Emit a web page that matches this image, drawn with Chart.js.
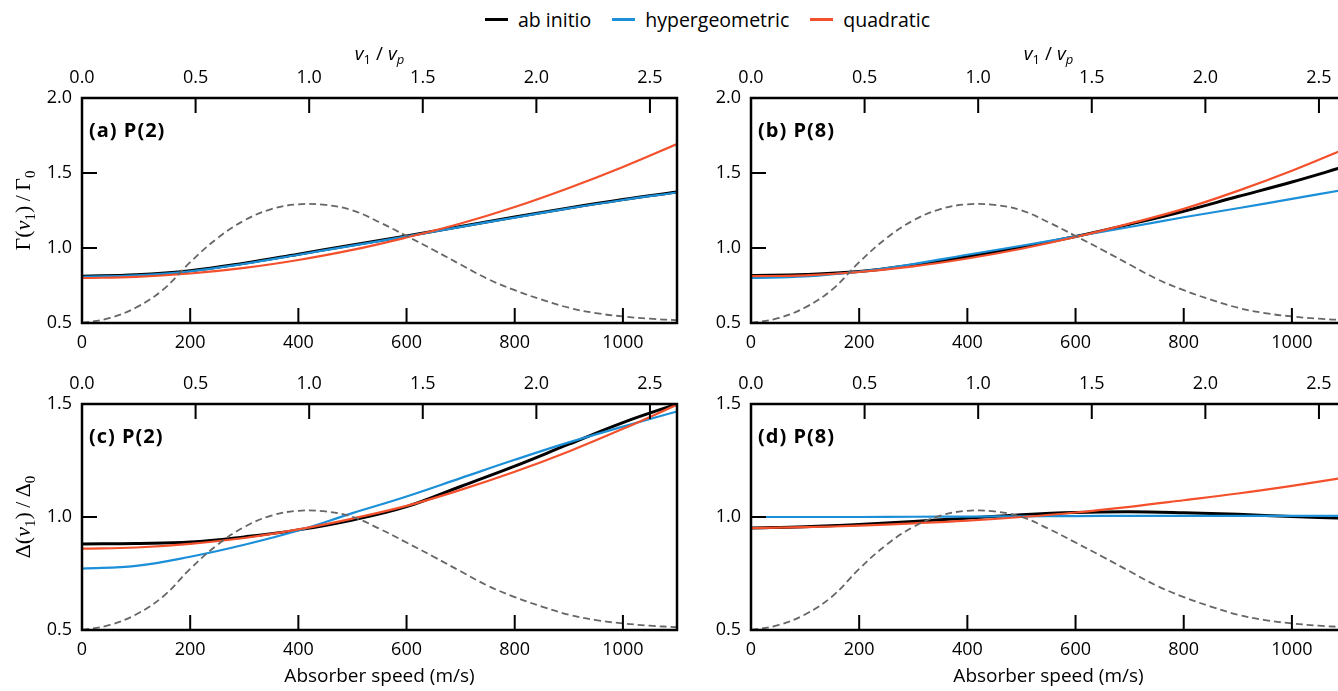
<!DOCTYPE html>
<html>
<head>
<meta charset="utf-8">
<script src="https://cdn.jsdelivr.net/npm/chart.js@4.4.1/dist/chart.umd.min.js"></script>
<style>
  html, body { margin: 0; padding: 0; background: #fff; overflow: hidden; }
  #fig { position: relative; width: 1338px; height: 691px; overflow: hidden; }
  #fig canvas { position: absolute; }
  #legend { position: absolute; top: 6px; left: 485px; display: flex; align-items: center;
            font: 19.5px "Open Sans", "DejaVu Sans", sans-serif; color: #000; white-space: nowrap; }
  #legend .item { display: flex; align-items: center; margin-right: 21px; }
  #legend .sw { display: inline-block; width: 23px; height: 3px; margin-right: 10px; }
</style>
</head>
<body>
<div id="fig">
  <div id="legend">
    <span class="item"><span class="sw" style="background:#000"></span>ab initio</span>
    <span class="item"><span class="sw" style="background:#1b8fd8"></span>hypergeometric</span>
    <span class="item"><span class="sw" style="background:#f4502c"></span>quadratic</span>
  </div>
  <canvas id="pa" width="682" height="332" style="left:0;top:28px"></canvas>
  <canvas id="pb" width="669" height="332" style="left:682px;top:28px"></canvas>
  <canvas id="pc" width="682" height="331" style="left:0;top:360px"></canvas>
  <canvas id="pd" width="669" height="331" style="left:682px;top:360px"></canvas>
</div>
<script>
// absorber speed (m/s) sample points for the three model curves
const speeds = [0, 100, 200, 300, 400, 500, 600, 700, 800, 900, 1000, 1100];

// Gamma(v1)/Gamma0, P(2)
const gammaP2AbInitio = [0.812, 0.822, 0.849, 0.899, 0.959, 1.020, 1.080, 1.144, 1.206, 1.267, 1.323, 1.373];
const gammaP2Hyper    = [0.808, 0.818, 0.845, 0.895, 0.955, 1.016, 1.077, 1.141, 1.203, 1.264, 1.320, 1.370];
const gammaP2Quad     = [0.800, 0.807, 0.830, 0.867, 0.920, 0.987, 1.070, 1.163, 1.273, 1.400, 1.540, 1.693];

// Gamma(v1)/Gamma0, P(8)
const gammaP8AbInitio = [0.817, 0.823, 0.843, 0.886, 0.942, 1.005, 1.077, 1.158, 1.245, 1.343, 1.440, 1.545];
const gammaP8Hyper    = [0.800, 0.810, 0.842, 0.893, 0.955, 1.015, 1.077, 1.140, 1.205, 1.265, 1.328, 1.390];
const gammaP8Quad     = [0.812, 0.818, 0.840, 0.877, 0.930, 0.995, 1.073, 1.163, 1.261, 1.381, 1.515, 1.663];

// Delta(v1)/Delta0, P(2)
const deltaP2AbInitio = [0.881, 0.883, 0.889, 0.912, 0.943, 0.987, 1.046, 1.135, 1.225, 1.322, 1.418, 1.500];
const deltaP2Hyper    = [0.772, 0.784, 0.824, 0.877, 0.940, 1.017, 1.091, 1.172, 1.253, 1.330, 1.400, 1.467];
const deltaP2Quad     = [0.860, 0.865, 0.881, 0.907, 0.945, 0.993, 1.049, 1.120, 1.200, 1.290, 1.390, 1.497];

// Delta(v1)/Delta0, P(8)
const deltaP8AbInitio = [0.951, 0.957, 0.967, 0.980, 0.995, 1.010, 1.020, 1.023, 1.019, 1.012, 1.002, 0.995];
const deltaP8Hyper    = [1.000, 1.000, 1.000, 1.001, 1.002, 1.003, 1.004, 1.005, 1.005, 1.005, 1.005, 1.005];
const deltaP8Quad     = [0.951, 0.955, 0.962, 0.972, 0.984, 1.000, 1.020, 1.045, 1.074, 1.104, 1.138, 1.175];

// speed distribution (dashed), relative to its peak
const distSpeeds = [0, 50, 100, 150, 200, 250, 300, 350, 400, 450, 500, 550,
                    600, 650, 700, 750, 800, 850, 900, 950, 1000, 1050, 1100];
const speedDist  = [0, 0.04, 0.13, 0.28, 0.51, 0.71, 0.86, 0.955, 0.995, 0.99, 0.945, 0.845,
                    0.73, 0.612, 0.49, 0.37, 0.275, 0.196, 0.128, 0.083, 0.055, 0.036, 0.023];

const vp = 420; // most probable speed, top axis is v1/vp
const xTicks = [0, 200, 400, 600, 800, 1000];
const topTicks = [0, 0.5, 1.0, 1.5, 2.0, 2.5];

const sans = '"Open Sans", "DejaVu Sans", sans-serif';
const serif = '"Liberation Serif", "DejaVu Serif", serif';
const BLACK = "#000000", BLUE = "#1b8fd8", RED = "#f4502c", GREY = "#666666";

function pts(xs, ys) {
  return xs.map((x, i) => ({ x, y: ys[i] }));
}

function richText(ctx, parts, x, y, angle) {
  ctx.save();
  ctx.translate(x, y);
  ctx.rotate(angle || 0);
  ctx.textAlign = "left";
  ctx.textBaseline = "alphabetic";
  ctx.fillStyle = "#000";
  let w = 0;
  parts.forEach(p => { ctx.font = p.font; p.w = ctx.measureText(p.text).width; w += p.w; });
  let cx = -w / 2;
  parts.forEach(p => { ctx.font = p.font; ctx.fillText(p.text, cx, p.dy || 0); cx += p.w; });
  ctx.restore();
}

function yTitleParts(sym) {
  return [
    { text: sym + "(", font: `22px ${serif}` },
    { text: "v", font: `italic 22px ${serif}` },
    { text: "1", font: `15px ${serif}`, dy: 5 },
    { text: ")\u2009/\u2009" + sym, font: `22px ${serif}` },
    { text: "0", font: `15px ${serif}`, dy: 5 }
  ];
}

const topTitleParts = [
  { text: "v", font: `italic 19px ${sans}` },
  { text: "1", font: `13px ${sans}`, dy: 4 },
  { text: " / ", font: `19px ${sans}` },
  { text: "v", font: `italic 19px ${sans}` },
  { text: "p", font: `italic 13px ${sans}`, dy: 4 }
];

const framePlugin = {
  id: "frame",
  afterDatasetsDraw(chart, args, opts) {
    const { ctx, chartArea: a, scales } = chart;
    ctx.save();
    ctx.strokeStyle = "#000";
    ctx.lineWidth = 2;
    ctx.beginPath();
    xTicks.forEach(v => {
      const px = scales.x.getPixelForValue(v);
      ctx.moveTo(px, a.bottom); ctx.lineTo(px, a.bottom - 15);
    });
    topTicks.forEach(v => {
      const px = scales.x2.getPixelForValue(v);
      ctx.moveTo(px, a.top); ctx.lineTo(px, a.top + 15);
    });
    scales.y.ticks.forEach(t => {
      const py = scales.y.getPixelForValue(t.value);
      ctx.moveTo(a.left, py); ctx.lineTo(a.left + 15, py);
    });
    ctx.stroke();
    ctx.lineWidth = 2.5;
    ctx.strokeRect(a.left, a.top, a.right - a.left, a.bottom - a.top);

    ctx.fillStyle = "#000";
    ctx.font = `bold 20px ${sans}`;
    ctx.letterSpacing = "1px";
    ctx.textAlign = "left";
    ctx.textBaseline = "middle";
    ctx.fillText(opts.label, a.left + 7, a.top + 33);
    ctx.letterSpacing = "0px";

    if (opts.topTitle) richText(ctx, topTitleParts, (a.left + a.right) / 2, a.top - 38);
    if (opts.ySym) richText(ctx, yTitleParts(opts.ySym), a.left - 52, (a.top + a.bottom) / 2, -Math.PI / 2);
    ctx.restore();
  }
};

function makePanel(id, cfg) {
  const tickFont = { family: sans, size: 18 };
  new Chart(document.getElementById(id), {
    type: "line",
    data: {
      datasets: [
        { data: pts(distSpeeds, speedDist), yAxisID: "y2", borderColor: GREY, borderWidth: 1.8, borderDash: [7, 4] },
        { data: pts(speeds, cfg.quad), yAxisID: "y", borderColor: RED, borderWidth: 2.2 },
        { data: pts(speeds, cfg.hyper), yAxisID: "y", borderColor: BLUE, borderWidth: 2.2 },
        { data: pts(speeds, cfg.abInitio), yAxisID: "y", borderColor: BLACK, borderWidth: 3 }
      ].map(d => Object.assign(d, { xAxisID: "x", pointRadius: 0, fill: false, tension: 0.4 }))
    },
    options: {
      responsive: false,
      animation: false,
      events: [],
      layout: { padding: { right: 5 } },
      plugins: {
        legend: { display: false },
        tooltip: { enabled: false },
        frame: { label: cfg.label, topTitle: cfg.topTitle, ySym: cfg.ySym }
      },
      scales: {
        x: {
          type: "linear", position: "bottom", min: 0, max: 1100,
          grid: { display: false, drawTicks: false }, border: { display: false },
          ticks: { stepSize: 200, includeBounds: false, padding: 9, color: "#000", font: tickFont,
                   maxRotation: 0, callback: v => String(v) },
          title: { display: cfg.bottomTitle, text: "Absorber speed (m/s)", color: "#000",
                   font: { family: sans, size: 19 }, padding: { top: 0, bottom: 3 } },
          afterFit: s => { s.height = cfg.bottomH; }
        },
        x2: {
          type: "linear", position: "top", min: 0, max: 1100 / vp,
          grid: { display: false, drawTicks: false }, border: { display: false },
          ticks: { stepSize: 0.5, includeBounds: false, padding: 9, color: "#000", font: tickFont,
                   maxRotation: 0, callback: v => v.toFixed(1) },
          afterFit: s => { s.height = cfg.topH; }
        },
        y: {
          position: "left", min: 0.5, max: cfg.yMax,
          grid: { display: false, drawTicks: false }, border: { display: false },
          ticks: { stepSize: 0.5, padding: 10, color: "#000", font: tickFont, callback: v => v.toFixed(1) },
          afterFit: s => { s.width = cfg.leftW; }
        },
        y2: { display: false, min: 0, max: 1.887 }
      }
    },
    plugins: [framePlugin]
  });
}

makePanel("pa", { label: "(a) P(2)", abInitio: gammaP2AbInitio, hyper: gammaP2Hyper, quad: gammaP2Quad,
  yMax: 2.0, ySym: "\u0393", topTitle: true, bottomTitle: false, topH: 70, bottomH: 37, leftW: 82 });
makePanel("pb", { label: "(b) P(8)", abInitio: gammaP8AbInitio, hyper: gammaP8Hyper, quad: gammaP8Quad,
  yMax: 2.0, ySym: null, topTitle: true, bottomTitle: false, topH: 70, bottomH: 37, leftW: 69 });
makePanel("pc", { label: "(c) P(2)", abInitio: deltaP2AbInitio, hyper: deltaP2Hyper, quad: deltaP2Quad,
  yMax: 1.5, ySym: "\u0394", topTitle: false, bottomTitle: true, topH: 44, bottomH: 61, leftW: 82 });
makePanel("pd", { label: "(d) P(8)", abInitio: deltaP8AbInitio, hyper: deltaP8Hyper, quad: deltaP8Quad,
  yMax: 1.5, ySym: null, topTitle: false, bottomTitle: true, topH: 44, bottomH: 61, leftW: 69 });
</script>
</body>
</html>
